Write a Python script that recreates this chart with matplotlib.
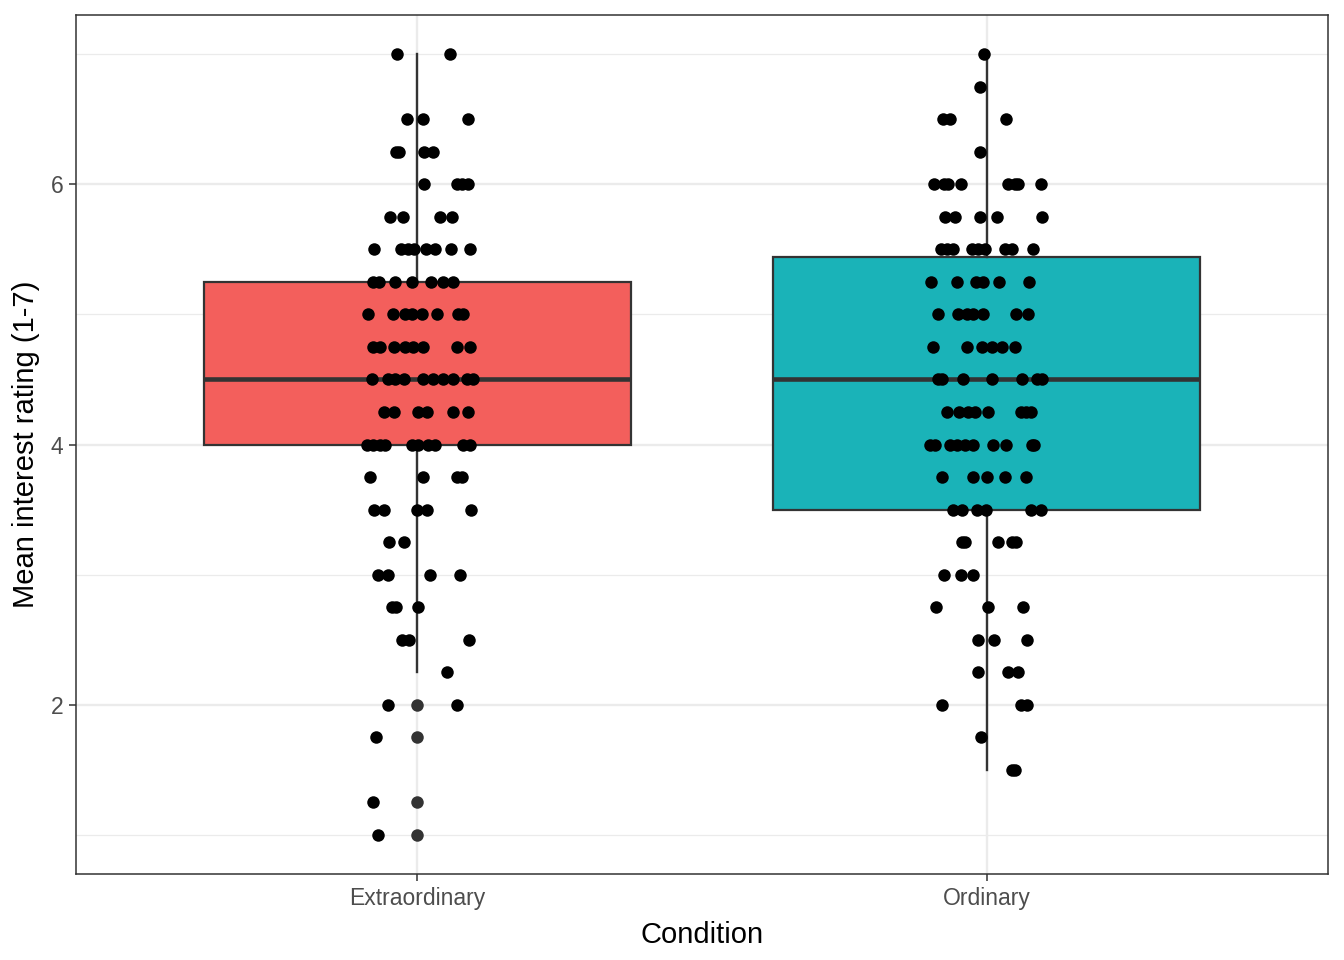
import numpy as np
import matplotlib
matplotlib.use("Agg")
import matplotlib.pyplot as plt

plt.rcParams['font.family'] = ['Liberation Sans', 'DejaVu Sans']

# categories and box colours
conditions = ["Extraordinary", "Ordinary"]
box_fill = ["#F35F5C", "#1AB3B8"]

# box statistics
q1 = [4.0, 3.5]
medians = [4.5, 4.5]
q3 = [5.25, 5.44]
whis_lo = [2.25, 1.5]
whis_hi = [7.0, 7.0]
fliers = [[2.0, 1.75, 1.25, 1.0], []]

# jittered ratings: value and horizontal offset (offset in 1/570 of a category step)
ext_values = (
    [7.0] * 2 + [6.5] * 3 + [6.25] * 4 + [6.0] * 4 + [5.75] * 4
    + [5.5] * 8 + [5.25] * 7 + [5.0] * 8 + [4.75] * 8 + [4.5] * 10
    + [4.25] * 6 + [4.0] * 10 + [3.75] * 4 + [3.5] * 5 + [3.25] * 2
    + [3.0] * 4 + [2.75] * 3 + [2.5] * 3 + [2.25] + [2.0] * 2
    + [1.75] + [1.25] + [1.0]
)
ext_jitter = (
    [-20, 33] + [-10, 6, 51] + [-21, -18, 7, 16] + [7, 40, 45, 51] + [-27, -14, 23, 35]
    + [-44, -16, -9, -3, 9, 18, 34, 53] + [-45, -39, -22, -5, 14, 26, 36]
    + [-50, -24, -12, -5, 5, 20, 41, 46] + [-45, -38, -23, -12, -4, 6, 40, 53]
    + [-46, -30, -22, -13, 6, 16, 26, 36, 50, 56]
    + [-34, -23, 1, 10, 36, 51] + [-51, -45, -38, -33, -5, 1, 11, 18, 46, 53]
    + [-48, 6, 40, 45] + [-44, -34, 0, 10, 54] + [-29, -13]
    + [-40, -30, 13, 43] + [-25, -21, 1] + [-15, -8, 52] + [30] + [-30, 40]
    + [-42] + [-45] + [-40]
)

ord_values = (
    [7.0] + [6.75] + [6.5] * 3 + [6.25] + [6.0] * 8 + [5.75] * 5
    + [5.5] * 9 + [5.25] * 6 + [5.0] * 7 + [4.75] * 6 + [4.5] * 7
    + [4.25] * 8 + [4.0] * 10 + [3.75] * 5 + [3.5] * 6 + [3.25] * 5
    + [3.0] * 3 + [2.75] * 3 + [2.5] * 3 + [2.25] * 3 + [2.0] * 3
    + [1.75] + [1.5] * 2
)
ord_jitter = (
    [-3] + [-7] + [-44, -37, 19] + [-7] + [-53, -43, -39, -26, 21, 28, 32, 55]
    + [-42, -32, -7, 10, 56] + [-46, -40, -34, -15, -9, -2, 18, 25, 47]
    + [-56, -30, -11, -4, 12, 43] + [-49, -29, -20, -14, -4, 30, 42]
    + [-54, -20, -5, 5, 15, 28] + [-49, -45, -24, 5, 36, 51, 56]
    + [-40, -28, -19, -12, 1, 35, 40, 45]
    + [-57, -52, -37, -30, -22, -14, 6, 19, 46, 48]
    + [-45, -14, 0, 18, 40] + [-34, -25, -10, -1, 45, 55]
    + [-25, -22, 11, 25, 30] + [-43, -26, -14] + [-51, 1, 37]
    + [-9, 7, 41] + [-9, 21, 32] + [-45, 35, 41] + [-6] + [25, 28]
)

fig = plt.figure(figsize=(13.44, 9.6), dpi=100)
ax = fig.add_axes([76 / 1344, 86 / 960, 1252 / 1344, 859 / 960])

grid_c = "#EBEBEB"
dark = "#333333"

# grid (ggplot theme_bw style)
for y in [1, 3, 5, 7]:
    ax.axhline(y, color=grid_c, lw=0.9, zorder=0)
for y in [2, 4, 6]:
    ax.axhline(y, color=grid_c, lw=1.7, zorder=0)
for x in [1, 2]:
    ax.axvline(x, color=grid_c, lw=1.7, zorder=0)

stats = []
for i in range(2):
    stats.append(dict(med=medians[i], q1=q1[i], q3=q3[i],
                      whislo=whis_lo[i], whishi=whis_hi[i], fliers=fliers[i]))

bp = ax.bxp(stats, positions=[1, 2], widths=0.75, patch_artist=True,
            showcaps=False, showfliers=True,
            boxprops=dict(edgecolor=dark, linewidth=1.6),
            whiskerprops=dict(color=dark, linewidth=1.7),
            medianprops=dict(color=dark, linewidth=3.3, solid_capstyle='butt'),
            flierprops=dict(marker='o', markerfacecolor=dark, markeredgecolor=dark,
                            markersize=9, markeredgewidth=0, linestyle='none'))
for patch, c in zip(bp['boxes'], box_fill):
    patch.set_facecolor(c)
    patch.set_zorder(2)
for ln in bp['whiskers'] + bp['medians']:
    ln.set_zorder(2.5)
for ln in bp['fliers']:
    ln.set_zorder(2.6)

# jittered points
ax.plot(1 + np.array(ext_jitter) / 570, ext_values, 'o', color='black',
        markersize=9, markeredgewidth=0, zorder=3)
ax.plot(2 + np.array(ord_jitter) / 570, ord_values, 'o', color='black',
        markersize=9, markeredgewidth=0, zorder=3)

ax.set_xlim(0.4, 2.6)
ax.set_ylim(0.7, 7.3)
ax.set_xticks([1, 2])
ax.set_xticklabels(conditions)
ax.set_yticks([2, 4, 6])
ax.set_yticklabels(["2", "4", "6"])

ax.tick_params(axis='both', direction='out', length=5, width=1.1, color=dark,
               labelcolor="#4D4D4D", labelsize=16.5, pad=4)
for sp in ax.spines.values():
    sp.set_color(dark)
    sp.set_linewidth(1.1)

ax.set_xlabel("Condition", fontsize=21, labelpad=8)
ax.set_ylabel("Mean interest rating (1-7)", fontsize=21, labelpad=8)

fig.savefig("out.png", dpi=100)
